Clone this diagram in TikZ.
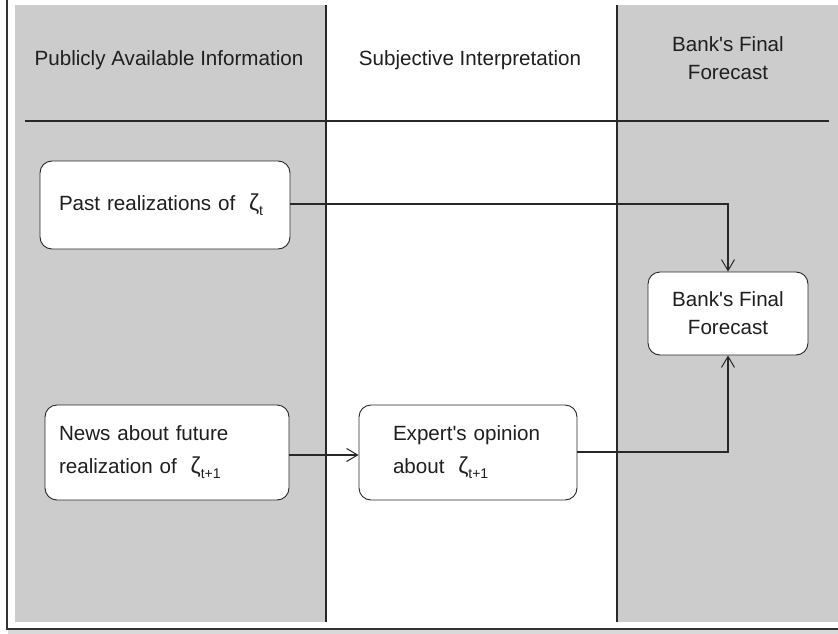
\documentclass[tikz,border=0pt]{standalone}
\usepackage{fontspec}
\setmainfont{Liberation Sans}[Ligatures=TeXOff]
\usetikzlibrary{arrows.meta}
\definecolor{lanegray}{RGB}{204,204,204}
\definecolor{linecol}{RGB}{40,40,40}
\newcommand{\zt}[1]{{\fontsize{23}{24}\selectfont ζ}\raisebox{-5pt}{\fontsize{14}{15}\selectfont #1}}
\begin{document}
\begin{tikzpicture}[x=1pt,y=-1pt,
  every node/.style={font=\fontsize{20.6}{28}\selectfont, text=black!88},
  lbl/.style={align=center, inner sep=0pt},
  box/.style={draw=linecol, line width=0.9pt, fill=white, rounded corners=12pt, align=left, inner ysep=0pt},
  wide/.style={font=\fontsize{20.6}{33}\selectfont},
  flow/.style={draw=linecol, line width=1.1pt, -{Straight Barb[length=11pt,width=13pt,line width=1pt]}},
  sep/.style={draw=linecol, line width=1.1pt}]
\useasboundingbox (0,0) rectangle (838,634);
\fill[white] (0,0) rectangle (838,634);
% lanes
\fill[lanegray] (15,5) rectangle (326,622);
\fill[lanegray] (617,5) rectangle (838,622);
\draw[sep] (326,5) -- (326,622);
\draw[sep] (617,5) -- (617,622);
\draw[sep] (25,121) -- (829,121);
% frame
\draw[draw=black!80, line width=1.2pt] (7,0) -- (7,629) -- (838,629);
\fill[black!15] (8,630) rectangle (838,634);
% headers
\node[lbl] (h1) at (169,60) {Publicly Available Information};
\node[lbl] (h2) at (470,60) {Subjective Interpretation};
\node[lbl] (h3) at (728,58) {Bank's Final\\Forecast};
% boxes
\node[box, inner xsep=19pt, text width=212pt, minimum height=88pt] (past) at (165,205) {Past realizations of \ \zt{t}};
\node[box, minimum width=160pt, minimum height=83pt, align=center] (bank) at (728,313.5) {Bank's Final\\Forecast};
\node[box, wide, inner xsep=14pt, text width=216pt, minimum height=95pt] (news) at (167,452.5) {News about future\\realization of \ \zt{t+1}};
\node[box, wide, inner xsep=34pt, text width=150pt, minimum height=95pt] (expert) at (468,452.5) {Expert's opinion\\about \ \zt{t+1}};
% connectors
\draw[flow] (past.east |- 0,204) -| (bank.north);
\draw[flow] (news.east |- 0,455) -- (expert.west |- 0,455);
\draw[flow] (expert.east |- 0,452) -| (bank.south);
\end{tikzpicture}
\end{document}
